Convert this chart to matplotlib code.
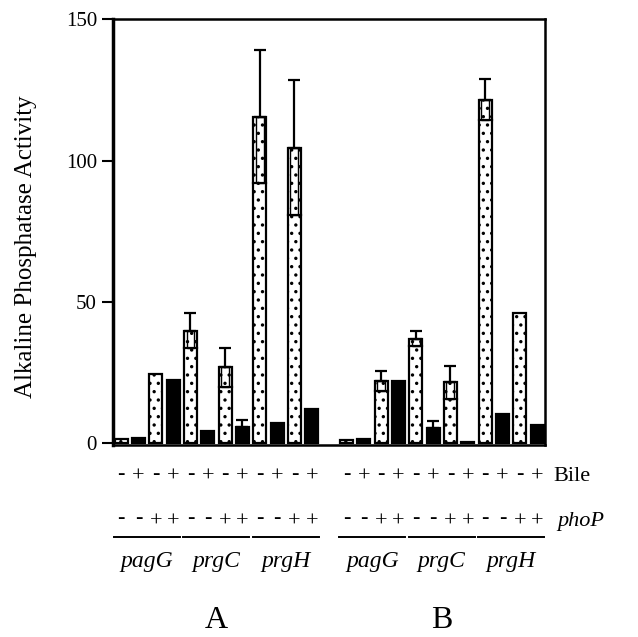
import numpy as np
import matplotlib
matplotlib.use("Agg")
import matplotlib.pyplot as plt

plt.rcParams['font.family'] = ['Liberation Serif', 'DejaVu Serif']
plt.rcParams['hatch.linewidth'] = 1.2

# bar heights, left to right (dotted = bile -, black = bile +)
values_A = [1.4, 1.8, 24.5, 22.3, 39.8, 4.5, 26.8, 5.6, 115.5, 7.2, 104.5, 12.0]
errors_A = [0, 0, 0, 0, 6.2, 0, 6.8, 2.5, 23.5, 0, 23.8, 0]
values_B = [1.2, 1.5, 22.0, 22.0, 37.0, 5.5, 21.5, 0.6, 121.5, 10.2, 46.0, 6.3]
errors_B = [0, 0, 3.5, 0, 2.7, 2.5, 6.0, 0, 7.2, 0, 0, 0]

genes = ["pagG", "prgC", "prgH"]
bile = ["-", "+", "-", "+"]
phoP = ["-", "-", "+", "+"]
panels = ["A", "B"]

fig = plt.figure(figsize=(6.38, 6.37), dpi=100)
ax = fig.add_axes([0.177, 0.301, 0.677, 0.669])

w = 0.75
for p, (vals, errs) in enumerate([(values_A, errors_A), (values_B, errors_B)]):
    x0 = p * 13
    for i, (v, e) in enumerate(zip(vals, errs)):
        x = x0 + i
        if i % 2 == 0:
            ax.bar(x, v, width=w, color='white', edgecolor='black', lw=1.6, hatch='..')
        else:
            ax.bar(x, v, width=w, color='black', edgecolor='black', lw=1.6)
        if e > 0:
            ax.errorbar(x, v, yerr=[[0], [e]], fmt='none', ecolor='black',
                        elinewidth=1.6, capsize=4, capthick=1.6)
            if i % 2 == 0:
                ax.bar(x, e, bottom=v - e, width=0.45, fill=False, edgecolor='black', lw=1)
                ax.plot([x - w / 2, x + w / 2], [v - e, v - e], color='black', lw=1.6)

    # labels under the bars
    tr = ax.get_xaxis_transform()
    for g, gene in enumerate(genes):
        for k in range(4):
            xi = x0 + g * 4 + k
            dy = 0.007 if bile[k] == "-" else 0
            ax.text(xi, -0.085 + dy, bile[k], transform=tr, ha='center', va='baseline', fontsize=16)
            dy = 0.007 if phoP[k] == "-" else 0
            ax.text(xi, -0.19 + dy, phoP[k], transform=tr, ha='center', va='baseline', fontsize=16)
        xs = x0 + g * 4
        ax.plot([xs - 0.4, xs + 3.4], [-0.216, -0.216], transform=tr, color='black',
                lw=1.4, clip_on=False)
        ax.text(xs + 1.5, -0.272, gene, transform=tr, ha='center', va='center',
                fontsize=17, style='italic')
    ax.text(x0 + 5.5, -0.411, panels[p], transform=tr, ha='center', va='center', fontsize=23)

ax.text(1.019, -0.085, "Bile", transform=ax.transAxes, ha='left', va='baseline', fontsize=16)
ax.text(1.028, -0.19, "phoP", transform=ax.transAxes, ha='left', va='baseline', fontsize=16,
        style='italic')

ax.set_xlim(-0.47, 24.45)
ax.set_ylim(-0.7, 150)
ax.set_yticks([0, 50, 100, 150])
ax.set_xticks([])
ax.tick_params(axis='y', direction='out', length=8, width=1.5, labelsize=15)
for s in ax.spines.values():
    s.set_linewidth(1.8)
ax.spines['left'].set_linewidth(2.5)
ax.set_ylabel("Alkaline Phosphatase Activity", fontsize=18)
ax.yaxis.set_label_coords(-0.175, 0.465)

fig.savefig("out.png", dpi=100)
